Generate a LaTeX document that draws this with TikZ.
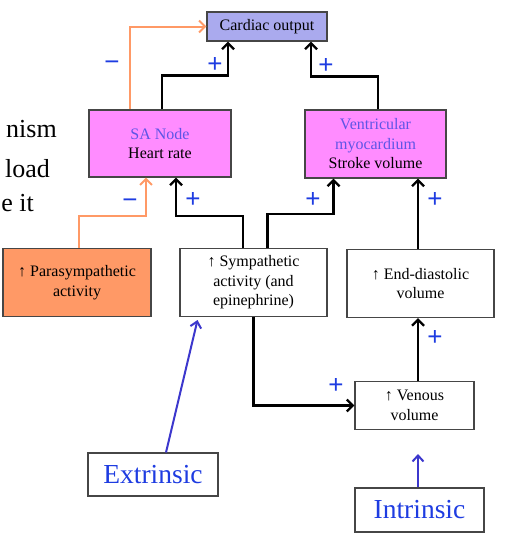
\documentclass[tikz,border=0pt]{standalone}
\usepackage{fontspec}
\setmainfont{Liberation Serif}
\newfontfamily\signfont{Liberation Sans}
\usetikzlibrary{arrows.meta,calc}
\definecolor{cofill}{RGB}{170,170,238}
\definecolor{pinkfill}{RGB}{255,140,255}
\definecolor{orfill}{RGB}{255,153,102}
\definecolor{nodeblue}{RGB}{95,85,230}
\definecolor{signblue}{RGB}{30,60,225}
\definecolor{arrblue}{RGB}{60,55,205}
\definecolor{bordergray}{RGB}{70,70,70}
\begin{document}
\begin{tikzpicture}[x=1pt,y=-1pt,
  box/.style={draw=bordergray, line width=1.1pt, align=center, inner sep=0pt,
    font=\fontsize{16}{19.5}\selectfont},
  bigbox/.style={draw=bordergray, line width=1.1pt, inner sep=0pt,
    font=\fontsize{27.5}{30}\selectfont, text=signblue},
  blk/.style={draw=black, line width=2.4pt,
    -{Straight Barb[length=6pt,width=12pt]}},
  orn/.style={draw=orfill, line width=2pt,
    -{Straight Barb[length=6pt,width=12pt]}},
  blu/.style={draw=arrblue, line width=2pt,
    -{Straight Barb[length=6pt,width=11pt]}},
  sign/.style={text=signblue, font=\signfont\fontsize{26}{28}\selectfont, inner sep=0pt},
  slide/.style={anchor=base east, inner sep=0pt, font=\fontsize{26}{30}\selectfont}
]
\useasboundingbox (0,0) rectangle (510,541);

% partial slide text at the left edge
\node[slide] (t1) at (57,137) {nism};
\node[slide] (t2) at (50,177) {load};
\node[slide] (t3) at (34,211) {e it};

% boxes
\node[box, fill=cofill, minimum width=120pt, minimum height=29pt] (co) at (267,26.5) {Cardiac output};
\node[box, fill=pinkfill, minimum width=142pt, minimum height=67pt] (sa) at (160,143.5)
  {\textcolor{nodeblue}{SA Node}\\Heart rate};
\node[box, fill=pinkfill, minimum width=141pt, minimum height=68pt] (vm) at (375.5,144)
  {\textcolor{nodeblue}{Ventricular}\\\textcolor{nodeblue}{myocardium}\\Stroke volume};
\node[box, fill=orfill, minimum width=148pt, minimum height=68pt] (para) at (77,282.5)
  {↑ Parasympathetic\\activity};
\node[box, fill=white, minimum width=147pt, minimum height=68pt] (symp) at (253.5,282.5)
  {↑ Sympathetic\\activity (and\\epinephrine)};
\node[box, fill=white, minimum width=147pt, minimum height=68pt] (edv) at (420.5,283.5)
  {↑ End-diastolic\\volume};
\node[box, fill=white, minimum width=119pt, minimum height=48pt] (ven) at (414.5,405.5)
  {↑ Venous\\volume};
\node[bigbox, minimum width=130pt, minimum height=43pt] (ext) at (153,474.5) {Extrinsic};
\node[bigbox, minimum width=129pt, minimum height=44pt] (int) at (419.5,510) {Intrinsic};

% connectors to cardiac output
\draw[orn] ([xshift=-30pt]sa.north) |- (co.west);
\draw[blk] ([xshift=2pt]sa.north) -- ++(0,-34) -| ([xshift=-39pt]co.south);
\draw[blk] ([xshift=2.5pt]vm.north) -- ++(0,-33) -| ([xshift=44pt]co.south);

% connectors to SA node
\draw[orn] ([xshift=2pt]para.north) -- ++(0,-32) -| ([xshift=-14pt]sa.south);
\draw[blk] ([xshift=-10.5pt]symp.north) -- ++(0,-32) -| ([xshift=16pt]sa.south);

% connectors to ventricular myocardium
\draw[blk] ([xshift=14pt]symp.north) -- ++(0,-34) -| ([xshift=-42pt]vm.south);
\coordinate (e1) at ([xshift=-2.5pt]edv.north);
\draw[blk] (e1) -- (e1 |- vm.south);

% venous volume to end-diastolic volume
\coordinate (v1) at ([xshift=3.5pt]ven.north);
\draw[blk] (v1) -- (v1 |- edv.south);

% sympathetic to venous volume
\draw[blk] (symp.south) |- (ven.west);

% extrinsic / intrinsic
\coordinate (xtip) at ([xshift=-56pt,yshift=-3pt]symp.south);
\draw[blu] ([xshift=13pt]ext.north) -- (xtip);
\coordinate (i1) at ([xshift=-1.5pt]int.north);
\coordinate (itip) at (418,454);
\draw[blu] (i1) -- (itip);

% signs
\node[sign] (s1) at (112,66) {−};
\node[sign] (s2) at (215,65) {+};
\node[sign] (s3) at (326,66) {+};
\node[sign] (s4) at (130,204) {−};
\node[sign] (s5) at (193,200) {+};
\node[sign] (s6) at (313,200) {+};
\node[sign] (s7) at (435,200) {+};
\node[sign] (s8) at (435,338) {+};
\node[sign] (s9) at (336,386) {+};
\end{tikzpicture}
\end{document}
